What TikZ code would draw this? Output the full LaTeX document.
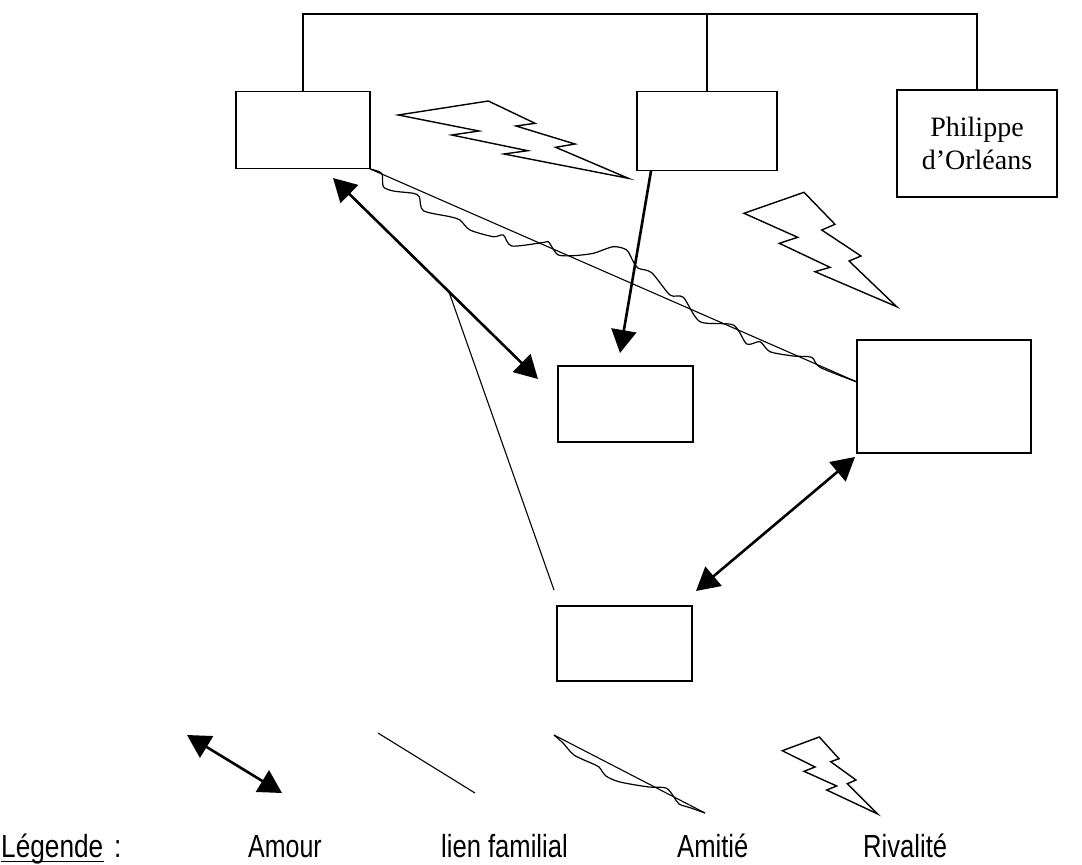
\documentclass[tikz,border=0pt]{standalone}
\usepackage{fontspec}
\setmainfont{Liberation Serif}
\newfontfamily\legfont{Liberation Sans}
\usetikzlibrary{arrows.meta}
\begin{document}
\begin{tikzpicture}[x=1pt,y=-1pt,
 box/.style={draw, line width=1.3pt, inner sep=0pt},
 amour/.style={line width=2.6pt, {Triangle[length=23pt,width=25pt]}-{Triangle[length=23pt,width=25pt]}},
 onearrow/.style={line width=2.6pt, -{Triangle[length=23pt,width=25pt]}},
 fam/.style={line width=1.1pt},
 wave/.style={line width=1.2pt, line join=round},
 bolt/.style={line width=1.4pt, line join=miter},
 leg/.style={anchor=base west, inner sep=0pt, font=\fontsize{32}{36}\legfont}]

\useasboundingbox[fill=white] (0,0) rectangle (1082,865);

% boxes
\node[box, minimum width=134, minimum height=77] (A) at (303,130) {};
\node[box, minimum width=140, minimum height=79] (B) at (707,131) {};
\node[box, minimum width=160, minimum height=107, align=center, font=\fontsize{28}{33}\selectfont] (C) at (977,143.5) {Philippe\\d'Orléans};
\node[box, minimum width=135, minimum height=76] (D) at (625.5,404) {};
\node[box, minimum width=174, minimum height=113] (E) at (944,396.5) {};
\node[box, minimum width=135, minimum height=75] (F) at (624.5,643.5) {};

% family tree top
\coordinate (T) at (0,14);
\draw[fam] (A.north) -- (A.north|-T) -- (C.north|-T) -- (C.north);
\draw[fam] (B.north) -- (B.north|-T);

% love arrows
\coordinate (a1s) at (333,178);
\coordinate (a1e) at (538,379);
\draw[amour] (a1s) -- (a1e);
\coordinate (b1s) at (651,171);
\coordinate (b1e) at (620,353);
\draw[onearrow] (b1s) -- (b1e);
\coordinate (c1s) at (855,457);
\coordinate (c1e) at (696,591);
\draw[amour] (c1s) -- (c1e);

% family line to F
\coordinate (famtop) at (449,292);
\coordinate (fambot) at (554,590);
\draw[fam] (famtop) -- (fambot);

% A to E: family + friendship
\coordinate (Ein) at (857,382);
\draw[fam] (A.south east) -- (Ein);
\draw[wave] plot[smooth, tension=0.45] coordinates {(370,169) (381.7,173.3) (383.3,186.7) (393.3,191) (413.3,193.3) (419.3,196.7) (423.3,210.7) (450,216.7) (460,220) (470,230) (493.3,236.7) (503.3,235) (511.7,246) (541.7,242.7) (548.3,241.7) (551.7,246.7) (558.3,255) (573.3,255.7) (593.3,253.3) (613.3,246.7) (626.7,250) (633.3,261.7) (638.3,268.3) (651.7,272.7) (670,295) (683.3,297.3) (700,321.7) (733.3,325) (746.7,344) (760,341.7) (770,351.7) (793.3,356) (811.7,357.3) (820,367.3) (857,382)};

% rivalry bolts
\draw[bolt] (398.3,115) -- (488.3,101) -- (535,123.3) -- (516,126) -- (575,144) -- (555.7,147.3) -- (628.3,178.3) -- (504,154) -- (527.7,150.7) -- (451.7,135) -- (479,131) -- cycle;
\draw[bolt] (744,213.3) -- (804,192.3) -- (835,224.3) -- (821.7,230) -- (861,256) -- (849,261) -- (896.7,306.7) -- (815,271.7) -- (830,267.3) -- (779.3,243.3) -- (797.7,237.3) -- cycle;

% legend graphics
\coordinate (l1s) at (187,735);
\coordinate (l1e) at (282,793);
\draw[amour] (l1s) -- (l1e);
\coordinate (l2s) at (378,733);
\coordinate (l2e) at (475,793);
\draw[fam] (l2s) -- (l2e);
\coordinate (l3s) at (554,735);
\coordinate (l3e) at (705,813);
\draw[fam] (l3s) -- (l3e);
\draw[wave] plot[smooth, tension=0.5] coordinates {(554,735) (563,743) (574,755) (591,763) (599,767) (606,776) (620,782) (649,787) (666,788) (674,797) (679,804) (691,808) (705,813)};
\draw[bolt] (782.3,750.7) -- (819.3,737) -- (839,758.7) -- (830.7,761.7) -- (856,780) -- (847.3,783.7) -- (877.7,814) -- (826.7,790) -- (836.7,786) -- (804,771.3) -- (815,767) -- cycle;

% legend text
\node[leg] (t0) at (1,857) {\scalebox{0.82}[1]{Légende}};
\draw[line width=1.1pt] ([yshift=-4.5pt]t0.base west) -- ([yshift=-4.5pt]t0.base east);
\node[leg] (t0c) at (114,857) {\scalebox{0.82}[1]{:}};
\node[leg] (t1) at (248,857) {\scalebox{0.78}[1]{Amour}};
\node[leg] (t2) at (441,857) {\scalebox{0.8}[1]{lien familial}};
\node[leg] (t3) at (677,857) {\scalebox{0.8}[1]{Amitié}};
\node[leg] (t4) at (863,857) {\scalebox{0.8}[1]{Rivalité}};
\end{tikzpicture}
\end{document}
